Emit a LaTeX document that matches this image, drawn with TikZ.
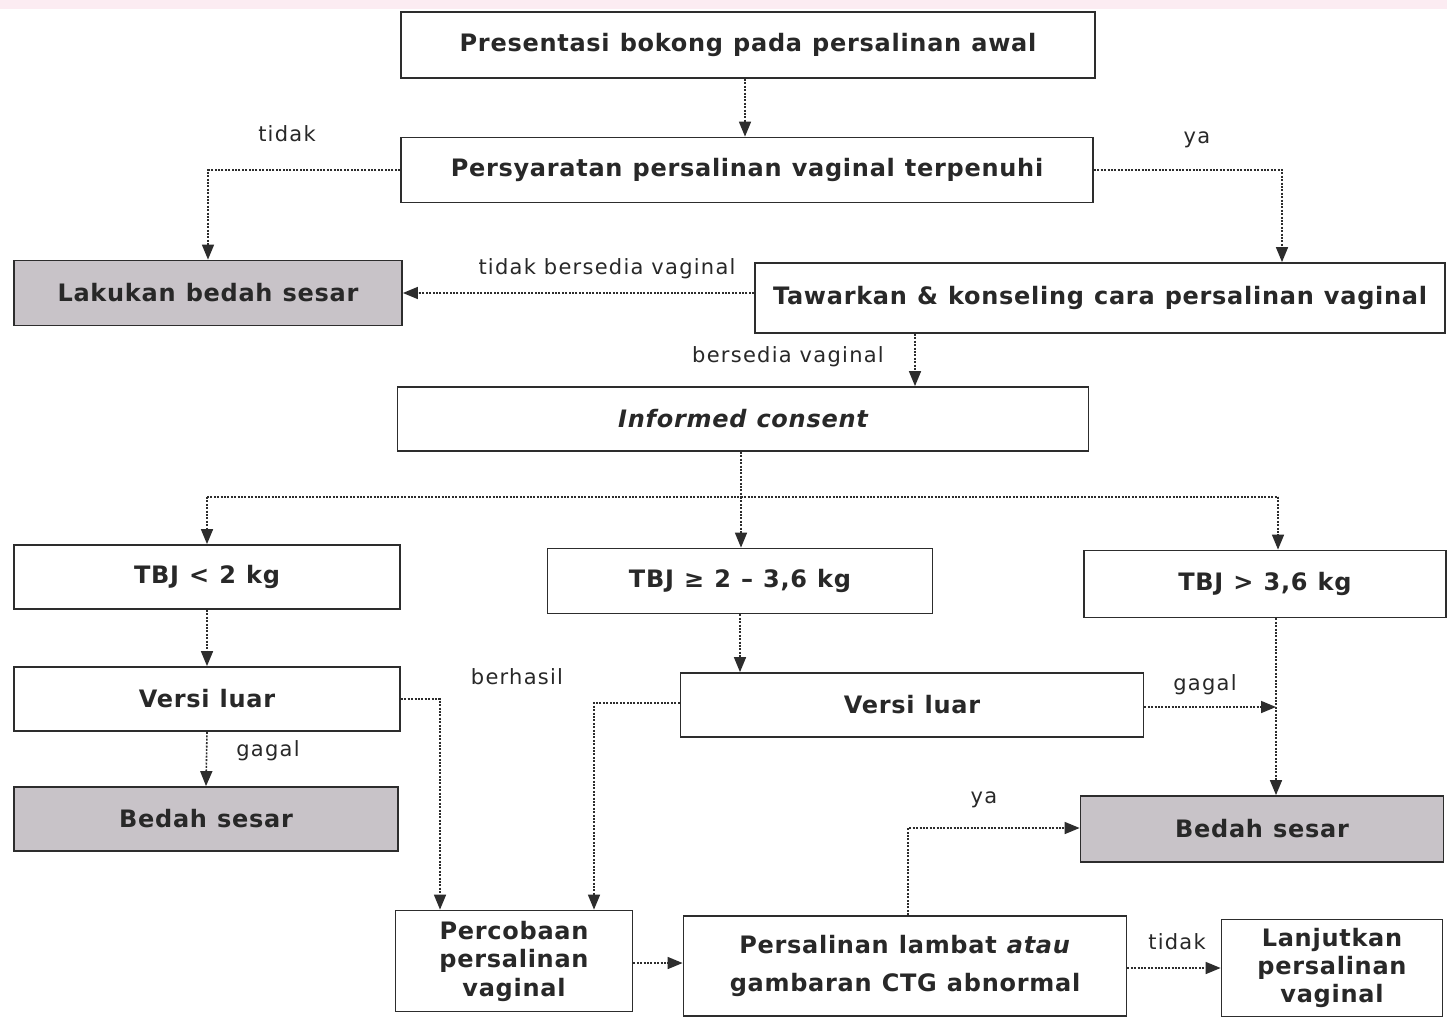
\documentclass[tikz,border=0pt]{standalone}
\usepackage{fontspec}
\setmainfont{DejaVu Sans}
\newfontfamily\boxfont[LetterSpace=3]{DejaVu Sans}
\newfontfamily\lblfont[LetterSpace=6]{DejaVu Sans}
\newcommand\widesp{\spaceskip=0.42em\relax}
\usetikzlibrary{arrows.meta}
\definecolor{linec}{RGB}{45,45,45}
\definecolor{txtc}{RGB}{40,40,40}
\definecolor{grayfill}{RGB}{200,195,200}
\definecolor{pinkband}{RGB}{252,236,242}
\tikzset{
  box/.style={draw=linec, line width=1.8pt, fill=white, text=txtc, inner sep=0pt,
    font=\boxfont\bfseries\fontsize{24}{28}\selectfont\widesp, align=center},
  graybox/.style={box, fill=grayfill},
  conn/.style={draw=linec, line width=1.6pt, dash pattern=on 2pt off 1.4pt},
  arr/.style={conn, -{Triangle[width=12pt,length=15pt]}},
  lbl/.style={text=txtc, font=\lblfont\fontsize{21}{24}\selectfont, inner sep=0pt}
}
\begin{document}
\begin{tikzpicture}[x=1pt,y=-1pt]
\useasboundingbox (0,0) rectangle (1447,1018);
\fill[white] (0,0) rectangle (1447,1018);
\fill[pinkband] (0,0) rectangle (1447,9);

% nodes
\node[box, minimum width=694pt, minimum height=66pt] (pres) at (748,45) {Presentasi bokong pada persalinan awal};
\node[box, minimum width=692pt, minimum height=65pt] (syarat) at (747,170) {Persyaratan persalinan vaginal terpenuhi};
\node[graybox, minimum width=388pt, minimum height=65pt] (lakukan) at (208,293) {Lakukan bedah sesar};
\node[box, minimum width=690pt, minimum height=70pt] (tawar) at (1100,298) {Tawarkan \& konseling cara persalinan vaginal};
\node[box, minimum width=691pt, minimum height=64pt] (inf) at (743,419) {\itshape Informed consent};
\node[box, minimum width=386pt, minimum height=64pt] (tbja) at (207,577) {TBJ < 2 kg};
\node[box, minimum width=385pt, minimum height=65pt] (tbjb) at (740,581) {TBJ ≥ 2 – 3,6 kg};
\node[box, minimum width=362pt, minimum height=67pt] (tbjc) at (1265,584) {TBJ > 3,6 kg};
\node[box, minimum width=386pt, minimum height=64pt] (vla) at (207,699) {Versi luar};
\node[graybox, minimum width=384pt, minimum height=64pt] (bsa) at (206,819) {Bedah sesar};
\node[box, minimum width=463pt, minimum height=64pt] (vlb) at (912,705) {Versi luar};
\node[graybox, minimum width=363pt, minimum height=66pt] (bsb) at (1262,829) {Bedah sesar};
\node[box, minimum width=237pt, minimum height=101pt, font=\boxfont\bfseries\fontsize{24}{28.5}\selectfont] (coba) at (514,961) {Percobaan\\persalinan\\vaginal};
\node[box, minimum width=443pt, minimum height=100pt, font=\boxfont\bfseries\fontsize{24}{38}\selectfont\widesp] (lambat) at (905,966) {Persalinan lambat \textit{atau}\\gambaran CTG abnormal};
\node[box, minimum width=221pt, minimum height=97pt, font=\boxfont\bfseries\fontsize{24}{28}\selectfont] (lanjut) at (1332,968) {Lanjutkan\\persalinan\\vaginal};

% coordinates
\coordinate (sl) at (207,497);
\coordinate (sm) at (741,497);
\coordinate (sr) at (1278,497);
\coordinate (vr) at (1276,707);
\coordinate (xa) at (440,699);
\coordinate (xb) at (594,703);
\coordinate (xc) at (908,828);

% connectors
\draw[arr] (pres.south -| 745,0) -- (syarat.north -| 745,0);
\draw[arr] (syarat.west) -| (lakukan.north);
\draw[arr] (syarat.east) -| (1282,0 |- tawar.north);
\draw[arr] (lakukan.east -| tawar.west) -- (lakukan.east);
\draw[arr] (tawar.south -| 915,0) -- (inf.north -| 915,0);
\draw[conn] (inf.south -| sm) -- (sm);
\draw[conn] (sl) -- (sr);
\draw[arr] (sl) -- (tbja.north);
\draw[arr] (sm) -- (tbjb.north -| sm);
\draw[arr] (sr) -- (sr |- tbjc.north);
\draw[arr] (tbja.south) -- (vla.north);
\draw[arr] (vla.south) -- (bsa.north);
\draw[arr] (vla.east) -| (xa |- coba.north);
\draw[arr] (tbjb.south) -- (vlb.north -| tbjb.south);
\draw[arr] (vlb.west |- xb) -| (xb |- coba.north);
\draw[arr] (vlb.east |- vr) -- (vr);
\draw[arr] (vr |- tbjc.south) -- (vr |- bsb.north);
\draw[arr] (coba.east |- 0,963) -- (lambat.west |- 0,963);
\draw[arr] (xc |- lambat.north) -- (xc) -- (bsb.west |- xc);
\draw[arr] (lambat.east |- 0,968) -- (lanjut.west |- 0,968);

% labels
\node[lbl] (l1) at (287,134) {tidak};
\node[lbl] (l2) at (1197,140) {ya};
\node[lbl] (l3) at (607,269) {tidak bersedia vaginal};
\node[lbl] (l4) at (788,357) {bersedia vaginal};
\node[lbl] (l5) at (268,751) {gagal};
\node[lbl] (l6) at (517,677) {berhasil};
\node[lbl] (l7) at (1205,685) {gagal};
\node[lbl] (l8) at (984,800) {ya};
\node[lbl] (l9) at (1177,942) {tidak};
\end{tikzpicture}
\end{document}
